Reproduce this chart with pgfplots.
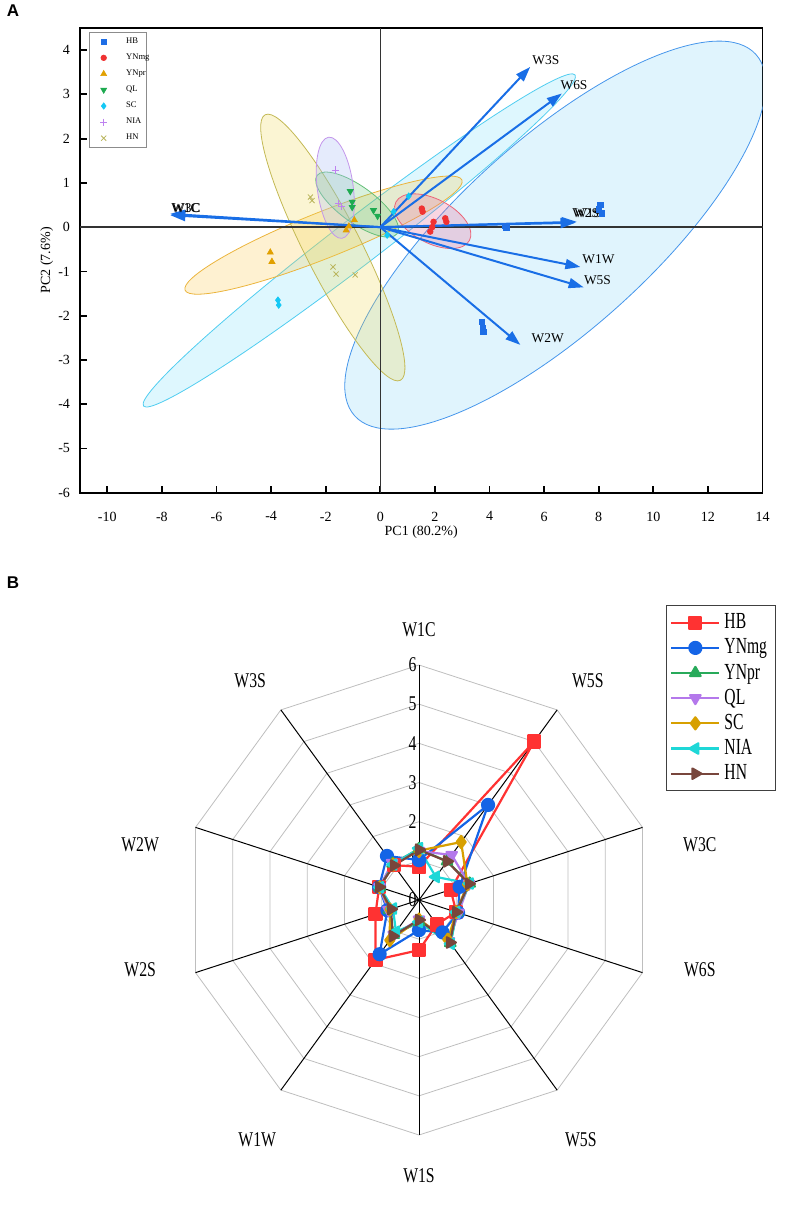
\documentclass[border=0pt]{standalone}
\usepackage{fontspec}
\setmainfont{Liberation Serif}
\newfontfamily\condfont[FakeStretch=0.75]{Liberation Serif}
\newfontfamily\legfont[FakeStretch=0.68]{Liberation Serif}
\newfontfamily\headfont{Liberation Sans}
\usepackage{pgfplots}
\pgfplotsset{compat=1.18}
\usetikzlibrary{arrows.meta}

% scatter colours (PCA)
\definecolor{aHB}{RGB}{30,110,230}
\definecolor{aYNmg}{RGB}{240,50,50}
\definecolor{aYNpr}{RGB}{225,160,0}
\definecolor{aQL}{RGB}{30,170,80}
\definecolor{aSC}{RGB}{20,200,245}
\definecolor{aNIA}{RGB}{190,130,240}
\definecolor{aHN}{RGB}{185,180,90}
\definecolor{arrowc}{RGB}{25,110,230}
% ellipse fills and borders
\definecolor{fHB}{RGB}{100,200,245}   \definecolor{dHB}{RGB}{70,150,235}
\definecolor{fSC}{RGB}{90,215,250}    \definecolor{dSC}{RGB}{80,205,240}
\definecolor{fYNpr}{RGB}{250,200,70}  \definecolor{dYNpr}{RGB}{235,180,60}
\definecolor{fHN}{RGB}{240,215,80}    \definecolor{dHN}{RGB}{195,185,85}
\definecolor{fQL}{RGB}{100,200,120}   \definecolor{dQL}{RGB}{100,190,120}
\definecolor{fNIA}{RGB}{170,190,245}  \definecolor{dNIA}{RGB}{195,150,235}
\definecolor{fYNmg}{RGB}{235,120,160} \definecolor{dYNmg}{RGB}{235,100,120}
% radar colours
\definecolor{bHB}{RGB}{255,50,50}
\definecolor{bYNmg}{RGB}{20,100,230}
\definecolor{bYNpr}{RGB}{40,170,90}
\definecolor{bQL}{RGB}{180,120,235}
\definecolor{bSC}{RGB}{215,160,0}
\definecolor{bNIA}{RGB}{30,215,215}
\definecolor{bHN}{RGB}{120,70,60}
\definecolor{gridc}{RGB}{190,190,190}

% confidence ellipse: fill, border, cx, cy, semi-major, semi-minor, angle, opacity
\newcommand{\confell}[8]{%
  \filldraw[fill=#1, fill opacity=#8, draw=#2, line width=0.4pt,
    rotate around={#7:(axis cs:#3,#4)}]
    (axis cs:#3,#4) ellipse [x radius=#5, y radius=#6];}

\begin{document}
\begin{tikzpicture}
\path[use as bounding box] (0pt,0pt) rectangle (393.5pt,-610.5pt);
\node[font=\headfont\bfseries\fontsize{8.5}{9}\selectfont] at (6.5pt,-5.5pt) {A};
\node[font=\headfont\bfseries\fontsize{8.5}{9}\selectfont] at (6.5pt,-291.5pt) {B};

% ---------------- PCA biplot ----------------
\begin{axis}[
  at={(40pt,-14pt)}, anchor=north west,
  scale only axis, width=341.25pt, height=232.35pt,
  xmin=-11, xmax=14, ymin=-6, ymax=4.5,
  xtick={-10,-8,...,14}, ytick={-6,-5,...,4},
  tick pos=left, tick align=inside,
  major tick length=3.5pt,
  axis line style={line width=0.9pt},
  every tick/.style={black, line width=0.9pt},
  /pgf/number format/assume math mode=true,
  tick label style={font=\fontsize{7}{8}\selectfont},
  xticklabel style={yshift=-6pt},
  yticklabel style={xshift=-1.5pt},
  xlabel={PC1 (80.2\%)}, ylabel={PC2 (7.6\%)},
  label style={font=\fontsize{7}{8}\selectfont},
  xlabel style={at={(axis description cs:0.5,-0.0846)}, anchor=center},
  ylabel style={at={(axis description cs:-0.0487,0.5)}, anchor=center},
  legend style={at={(0.0132,0.9914)}, anchor=north west, draw=black!45,
    line width=0.3pt, font=\fontsize{4.3}{5}\selectfont, row sep=-0.3pt,
    inner xsep=1pt, inner ysep=0.6pt,
    cells={anchor=west, text width=7pt}},
  legend image code/.code={\path (0pt,0pt) (15pt,0pt);
    \draw[mark repeat=2, mark phase=2, #1]
    plot coordinates {(0pt,0pt) (6pt,0pt) (12pt,0pt)};},
]
% confidence ellipses
\confell{fHB}{dHB}{6.41}{-0.18}{135pt}{47.5pt}{42}{0.2}
\confell{fSC}{dSC}{-0.77}{-0.30}{136pt}{11.5pt}{37.5}{0.2}
\confell{fYNpr}{dYNpr}{-2.08}{-0.18}{74.5pt}{11.5pt}{21.7}{0.25}
\confell{fHN}{dHN}{-1.74}{-0.46}{74.5pt}{14pt}{117}{0.25}
\confell{fQL}{dQL}{-0.85}{0.51}{24.75pt}{9pt}{-36}{0.25}
\confell{fNIA}{dNIA}{-1.65}{0.89}{25.5pt}{9pt}{97.5}{0.3}
\confell{fYNmg}{dYNmg}{1.92}{0.135}{20.75pt}{11pt}{-27.5}{0.3}

% origin lines
\addplot[black!80, line width=0.8pt, forget plot] coordinates {(-11,0) (14,0)};
\addplot[black!80, line width=0.8pt, forget plot] coordinates {(0,-6) (0,4.5)};

% loadings
\pgfplotsset{loading/.style={arrowc, line width=1pt,
  -{Triangle[length=7.5pt,width=5pt]}, forget plot}}
\addplot[loading] coordinates {(0,0) (5.49,3.62)};
\addplot[loading] coordinates {(0,0) (6.65,3.02)};
\addplot[loading] coordinates {(0,0) (7.20,0.12)};
\addplot[loading] coordinates {(0,0) (7.15,0.10)};
\addplot[loading] coordinates {(0,0) (7.33,-0.90)};
\addplot[loading] coordinates {(0,0) (7.45,-1.36)};
\addplot[loading] coordinates {(0,0) (5.13,-2.66)};
\addplot[loading] coordinates {(0,0) (-7.69,0.27)};
\addplot[loading] coordinates {(0,0) (-7.70,0.30)};

\begin{scope}[every node/.style={font=\fontsize{6.7}{7}\selectfont, inner sep=0pt, anchor=west}]
\node at (axis cs:5.56,3.77) {W3S};
\node at (axis cs:6.59,3.20) {W6S};
\node at (axis cs:7.02,0.31) {W2S};
\node[xshift=1pt] at (axis cs:7.02,0.31) {W1S};
\node at (axis cs:7.39,-0.73) {W1W};
\node at (axis cs:7.45,-1.20) {W5S};
\node at (axis cs:5.53,-2.50) {W2W};
\node at (axis cs:-7.67,0.44) {W1C};
\node[xshift=0.5pt] at (axis cs:-7.67,0.44) {W3C};
\end{scope}

% samples
\addplot[only marks, mark=square*, color=aHB, mark size=1.3pt]
  coordinates {(8.06,0.51) (8.12,0.31) (8.02,0.40) (4.58,0.02) (4.62,-0.02)
               (3.72,-2.14) (3.75,-2.27) (3.78,-2.37)};
\addlegendentry{HB}
\addplot[only marks, mark=*, color=aYNmg, mark size=1.4pt]
  coordinates {(1.52,0.42) (1.55,0.35) (1.95,0.12) (1.90,0.00) (1.83,-0.10)
               (2.38,0.20) (2.42,0.12)};
\addlegendentry{YNmg}
\addplot[only marks, mark=triangle*, color=aYNpr, mark size=1.7pt]
  coordinates {(-4.03,-0.57) (-3.97,-0.78) (-0.95,0.16) (-1.15,0.02) (-1.25,-0.07)};
\addlegendentry{YNpr}
\addplot[only marks, mark=triangle*, mark options={rotate=180}, color=aQL, mark size=1.7pt]
  coordinates {(-1.10,0.81) (-1.03,0.57) (-1.03,0.45) (-0.25,0.38) (-0.10,0.25)};
\addlegendentry{QL}
\addplot[only marks, mark=diamond*, color=aSC, mark size=1.6pt]
  coordinates {(-3.75,-1.65) (-3.72,-1.76) (0.25,-0.18) (0.49,0.35) (1.04,0.70)};
\addlegendentry{SC}
\addplot[only marks, mark=+, color=aNIA, mark size=1.8pt, line width=0.4pt]
  coordinates {(-1.65,1.29) (-1.53,0.53) (-1.42,0.47)};
\addlegendentry{NIA}
\addplot[only marks, mark=x, color=aHN, mark size=1.8pt, line width=0.4pt]
  coordinates {(-2.56,0.68) (-2.50,0.60) (-1.73,-0.90) (-1.62,-1.06) (-0.92,-1.08)};
\addlegendentry{HN}
\end{axis}

% ---------------- radar chart ----------------
\begin{axis}[
  at={(209.5pt,-450pt)}, anchor=center, hide axis,
  x=19.583pt, y=19.583pt, xmin=-9, xmax=9, ymin=-9, ymax=9,
  clip=false,
  legend style={at={(0.850,0.918)}, anchor=north west, draw=black!75,
    line width=0.5pt, font=\legfont\fontsize{11.5}{12}\selectfont,
    row sep=-0.5pt, inner xsep=2pt, inner ysep=2pt, cells={anchor=west}},
  legend image code/.code={\draw[mark repeat=2, mark phase=2, #1]
    plot coordinates {(0pt,0pt) (12pt,0pt) (24pt,0pt)};},
]
\pgfplotsinvokeforeach{1,...,6}{
  \addplot[gridc, line width=0.4pt, data cs=polar, forget plot]
    coordinates {(90,#1) (54,#1) (18,#1) (-18,#1) (-54,#1) (-90,#1)
                 (-126,#1) (-162,#1) (162,#1) (126,#1) (90,#1)};
}
\pgfplotsinvokeforeach{90,54,18,-18,-54,-90,-126,-162,162,126}{
  \addplot[black, line width=0.5pt, data cs=polar, forget plot]
    coordinates {(0,0) (#1,6)};
}
\pgfplotsinvokeforeach{0,...,6}{
  \node[anchor=east, inner sep=1pt, font=\condfont\fontsize{10.5}{11}\selectfont]
    at (axis cs:0,#1) {#1};
}
\begin{scope}[every node/.style={font=\condfont\fontsize{10.5}{11}\selectfont}]
\node at (axis cs:0,6.90) {W1C};
\node at (axis cs:4.31,5.61) {W5S};
\node at (axis cs:7.17,1.40) {W3C};
\node at (axis cs:7.17,-1.79) {W6S};
\node at (axis cs:4.13,-6.12) {W5S};
\node at (axis cs:0,-7.04) {W1S};
\node at (axis cs:-4.13,-6.12) {W1W};
\node at (axis cs:-7.12,-1.79) {W2S};
\node at (axis cs:-7.12,1.40) {W2W};
\node at (axis cs:-4.31,5.61) {W3S};
\end{scope}

% sensor responses: W1C, W5S, W3C, W6S, W5S, W1S, W1W, W2S, W2W, W3S
\pgfplotsset{radar/.style={line width=1.1pt, line join=round, data cs=polar,
  mark size=3pt, mark options={solid}}}
\addplot[radar, bHB, mark=square*] coordinates {(90,0.85) (54,5.00) (18,0.85)
  (-18,1.00) (-54,0.77) (-90,1.28) (-126,1.89) (-162,1.17) (162,1.07) (126,1.10) (90,0.85)};
\addlegendentry{HB}
\addplot[radar, bYNmg, mark=*] coordinates {(90,1.02) (54,3.00) (18,1.09)
  (-18,1.05) (-54,1.02) (-90,0.77) (-126,1.71) (-162,0.85) (162,1.07) (126,1.39) (90,1.02)};
\addlegendentry{YNmg}
\addplot[radar, bYNpr, mark=triangle*] coordinates {(90,1.30) (54,1.22) (18,1.36)
  (-18,1.02) (-54,1.36) (-90,0.56) (-126,1.10) (-162,0.80) (162,1.05) (126,1.15) (90,1.30)};
\addlegendentry{YNpr}
\addplot[radar, bQL, mark=triangle*, mark options={rotate=180}] coordinates {(90,1.25) (54,1.42) (18,1.34)
  (-18,1.06) (-54,1.30) (-90,0.50) (-126,1.10) (-162,0.82) (162,1.06) (126,1.17) (90,1.25)};
\addlegendentry{QL}
\addplot[radar, bSC, mark=diamond*] coordinates {(90,1.26) (54,1.83) (18,1.30)
  (-18,1.00) (-54,1.25) (-90,0.50) (-126,1.27) (-162,0.78) (162,1.05) (126,1.12) (90,1.26)};
\addlegendentry{SC}
\addplot[radar, bNIA, mark=triangle*, mark options={rotate=90}] coordinates {(90,1.32) (54,0.73) (18,1.36)
  (-18,1.00) (-54,1.38) (-90,0.56) (-126,1.00) (-162,0.70) (162,1.05) (126,1.12) (90,1.32)};
\addlegendentry{NIA}
\addplot[radar, bHN, mark=triangle*, mark options={rotate=-90}] coordinates {(90,1.28) (54,1.22) (18,1.34)
  (-18,1.00) (-54,1.34) (-90,0.51) (-126,1.14) (-162,0.75) (162,1.07) (126,1.09) (90,1.28)};
\addlegendentry{HN}
\end{axis}
\end{tikzpicture}
\end{document}
